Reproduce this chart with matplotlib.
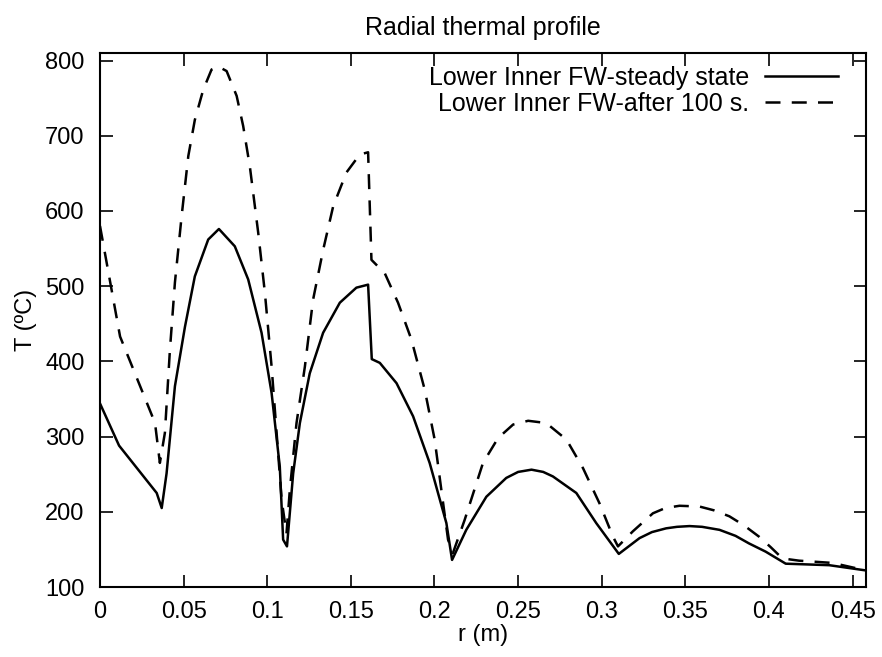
import matplotlib
matplotlib.use("Agg")
import matplotlib.pyplot as plt

plt.rcParams['font.family'] = ['Liberation Sans', 'DejaVu Sans']

r_steady = [0.0, 0.0114, 0.0339, 0.0369, 0.0398, 0.0448, 0.0508, 0.0567, 0.0647, 0.0711,
            0.0806, 0.0886, 0.0966, 0.1026, 0.1075, 0.1095, 0.1118,
            0.1155, 0.1195, 0.1254, 0.1334, 0.1434, 0.1533, 0.1603, 0.1625, 0.1673,
            0.1773, 0.1872, 0.1971, 0.2071, 0.2105,
            0.219, 0.231, 0.2429, 0.250, 0.258, 0.265, 0.2708, 0.2848, 0.2967, 0.3102,
            0.3226, 0.330, 0.3385, 0.345, 0.3525, 0.360, 0.3704, 0.380, 0.388, 0.398,
            0.410, 0.436, 0.458]
T_steady = [344, 288, 225, 205, 251, 367, 446, 513, 562, 576,
            553, 509, 438, 358, 260, 163, 154,
            251, 318, 384, 438, 478, 498, 502, 403, 398,
            371, 327, 265, 185, 136,
            176, 220, 245, 253, 256, 253, 247, 225, 185, 144,
            165, 173, 178, 180, 181, 180, 176, 168, 158, 147,
            131, 129, 122]

r_after = [0.0, 0.012, 0.0329, 0.0358, 0.0388, 0.0418, 0.0448, 0.0488, 0.0528, 0.0567,
           0.0617, 0.0667, 0.0707, 0.0757, 0.0817, 0.0856, 0.0896, 0.0946, 0.0986,
           0.1026, 0.1056, 0.1086, 0.1115,
           0.1135, 0.1175, 0.1225, 0.1274, 0.1334, 0.1394, 0.1473, 0.1553, 0.1603,
           0.1623, 0.1703, 0.1782, 0.1862, 0.1942, 0.2001, 0.2041, 0.2081, 0.211,
           0.218, 0.229, 0.238, 0.247, 0.256, 0.2668, 0.2789, 0.2888, 0.2987, 0.3067, 0.3097,
           0.3186, 0.3306, 0.338, 0.3465, 0.3584, 0.367, 0.3763, 0.385, 0.394, 0.401, 0.408,
           0.418, 0.438, 0.458]
T_after = [580, 433, 318, 265, 305, 415, 505, 593, 673, 721,
           761, 788, 792, 786, 753, 713, 659, 571, 491,
           393, 305, 216, 171,
           229, 318, 393, 482, 548, 606, 651, 675, 678,
           535, 517, 478, 429, 362, 296, 229, 163, 145,
           189, 265, 298, 316, 321, 318, 296, 258, 211, 167, 154,
           174, 198, 205, 208, 207, 202, 194, 182, 167, 153, 138,
           135, 132, 122]

x_ticks = [0, 0.05, 0.1, 0.15, 0.2, 0.25, 0.3, 0.35, 0.4, 0.45]
x_tick_labels = ["0", "0.05", "0.1", "0.15", "0.2", "0.25", "0.3", "0.35", "0.4", "0.45"]
y_ticks = [100, 200, 300, 400, 500, 600, 700, 800]

fig = plt.figure(figsize=(8.82, 6.57), dpi=100)
ax = fig.add_axes([100 / 882, 1 - 587 / 657, 766 / 882, 534 / 657])

ax.plot(r_steady, T_steady, color='black', lw=1.8, label='Lower Inner FW-steady state')
ax.plot(r_after, T_after, color='black', lw=1.8, dashes=(6, 4.5), label='Lower Inner FW-after 100 s.')

ax.set_xlim(0, 0.458)
ax.set_ylim(100, 810)
ax.set_xticks(x_ticks)
ax.set_xticklabels(x_tick_labels)
ax.set_yticks(y_ticks)
ax.tick_params(direction='in', length=9, width=1.2, top=True, right=True, labelsize=17)
ax.tick_params(axis='x', pad=10)
ax.tick_params(axis='y', pad=11)
for s in ax.spines.values():
    s.set_linewidth(1.5)

ax.set_xlabel('r (m)', fontsize=17, labelpad=1)
ax.set_ylabel('T (ºC)', fontsize=17, labelpad=6)
ax.set_title('Radial thermal profile', fontsize=18, pad=13)

ax.legend(loc='upper right', bbox_to_anchor=(0.976, 0.995), frameon=False, markerfirst=False,
          fontsize=18, handlelength=2.9, handletextpad=0.65, labelspacing=0.1,
          borderaxespad=0.0, alignment='right')

fig.savefig('out.png', dpi=100)
